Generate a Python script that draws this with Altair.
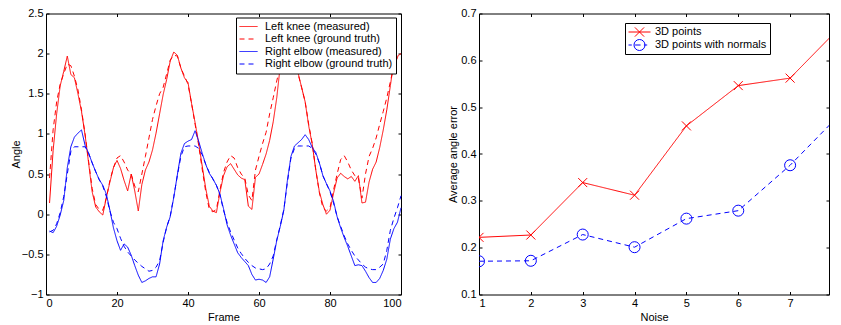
import altair as alt
import pandas as pd

# ---------------- Left panel data ----------------
frames = list(range(1, 101))
knee_measured = [
    0.14, 0.79, 1.25, 1.60, 1.78, 1.97, 1.74, 1.70, 1.50, 1.28,
    0.99, 0.64, 0.28, 0.09, 0.03, -0.01, 0.21, 0.40, 0.58, 0.67,
    0.57, 0.42, 0.29, 0.50, 0.29, 0.04, 0.37, 0.55, 0.65, 0.80,
    1.01, 1.25, 1.49, 1.68, 1.91, 2.02, 1.98, 1.82, 1.70, 1.64,
    1.38, 1.14, 0.89, 0.60, 0.32, 0.10, 0.04, 0.02, 0.27, 0.48,
    0.59, 0.63, 0.56, 0.49, 0.45, 0.43, 0.10, 0.06, 0.46, 0.50,
    0.62, 0.75, 0.92, 1.15, 1.45, 1.85, 1.98, 2.00, 1.96, 1.88,
    1.76, 1.58, 1.40, 1.10, 0.87, 0.55, 0.28, 0.12, 0.00, 0.05,
    0.26, 0.45, 0.51, 0.47, 0.44, 0.47, 0.41, 0.48, 0.14, 0.15,
    0.40, 0.56, 0.65, 0.83, 1.05, 1.30, 1.60, 1.90, 1.97, 2.00,
]
knee_truth = [
    0.45, 1.05, 1.40, 1.62, 1.75, 1.87, 1.85, 1.72, 1.55, 1.30,
    1.00, 0.66, 0.32, 0.12, 0.06, 0.05, 0.20, 0.42, 0.58, 0.70,
    0.73, 0.65, 0.55, 0.50, 0.35, 0.28, 0.50, 0.72, 0.95, 1.18,
    1.35, 1.50, 1.58, 1.75, 1.92, 1.98, 1.97, 1.82, 1.72, 1.62,
    1.38, 1.12, 0.86, 0.56, 0.28, 0.06, 0.03, 0.06, 0.30, 0.52,
    0.65, 0.73, 0.70, 0.58, 0.50, 0.45, 0.24, 0.17, 0.55, 0.72,
    0.88, 1.02, 1.25, 1.45, 1.66, 1.85, 1.95, 1.97, 1.94, 1.86,
    1.75, 1.58, 1.40, 1.12, 0.88, 0.55, 0.27, 0.08, 0.04, 0.08,
    0.30, 0.50, 0.68, 0.73, 0.65, 0.55, 0.48, 0.45, 0.20, 0.50,
    0.72, 0.82, 0.95, 1.12, 1.28, 1.45, 1.65, 1.85, 1.95, 2.00,
]
elbow_measured = [
    -0.21, -0.23, -0.15, -0.01, 0.17, 0.58, 0.84, 0.96, 1.01, 1.05,
    0.86, 0.76, 0.64, 0.53, 0.43, 0.36, 0.25, 0.05, -0.17, -0.33,
    -0.45, -0.37, -0.41, -0.51, -0.64, -0.76, -0.85, -0.83, -0.80, -0.78,
    -0.78, -0.62, -0.33, -0.16, -0.03, 0.21, 0.49, 0.76, 0.88, 0.91,
    0.93, 1.04, 0.91, 0.76, 0.62, 0.51, 0.44, 0.36, 0.25, 0.07,
    -0.13, -0.26, -0.37, -0.48, -0.54, -0.59, -0.64, -0.75, -0.82, -0.81,
    -0.82, -0.85, -0.78, -0.56, -0.33, -0.15, 0.05, 0.42, 0.72, 0.85,
    0.89, 0.93, 0.99, 0.93, 0.83, 0.77, 0.64, 0.48, 0.38, 0.29,
    0.16, -0.03, -0.17, -0.29, -0.40, -0.52, -0.64, -0.63, -0.64, -0.71,
    -0.79, -0.85, -0.85, -0.80, -0.70, -0.56, -0.31, -0.18, -0.10, 0.08,
]
elbow_truth = [
    -0.22, -0.20, -0.12, 0.02, 0.22, 0.50, 0.78, 0.84, 0.84, 0.84,
    0.84, 0.76, 0.64, 0.53, 0.43, 0.35, 0.22, 0.04, -0.10, -0.18,
    -0.30, -0.40, -0.47, -0.52, -0.57, -0.61, -0.65, -0.68, -0.71, -0.70,
    -0.66, -0.58, -0.35, -0.16, -0.02, 0.22, 0.48, 0.72, 0.84, 0.85,
    0.85, 0.85, 0.82, 0.74, 0.62, 0.52, 0.44, 0.36, 0.24, 0.05,
    -0.10, -0.22, -0.32, -0.42, -0.49, -0.55, -0.60, -0.64, -0.67, -0.68,
    -0.69, -0.68, -0.62, -0.52, -0.32, -0.14, 0.06, 0.40, 0.70, 0.82,
    0.85, 0.85, 0.85, 0.85, 0.82, 0.75, 0.64, 0.48, 0.38, 0.28,
    0.14, -0.03, -0.15, -0.27, -0.37, -0.45, -0.52, -0.57, -0.62, -0.66,
    -0.68, -0.69, -0.69, -0.66, -0.62, -0.45, -0.20, -0.05, 0.08, 0.23,
]
left_series = [
    "Left knee (measured)",
    "Left knee (ground truth)",
    "Right elbow (measured)",
    "Right elbow (ground truth)",
]
left_colors = ["#ff0000", "#ff0000", "#0000ff", "#0000ff"]
left_dashes = [[1, 0], [5, 4], [1, 0], [5, 4]]
left_xticks = [0, 20, 40, 60, 80, 100]
left_yticks = [-1, -0.5, 0, 0.5, 1, 1.5, 2, 2.5]

# ---------------- Right panel data ----------------
noise = [1, 2, 3, 4, 5, 6, 7, 8]
err_points = [0.222, 0.227, 0.339, 0.312, 0.460, 0.546, 0.562, 0.675]
err_normals = [0.171, 0.172, 0.228, 0.201, 0.262, 0.279, 0.376, 0.489]
right_series = ["3D points", "3D points with normals"]
right_styles = ["solid", "dashed"]
right_colors = ["#ff0000", "#0000ff"]
right_dashes = [[1, 0], [5, 4]]
right_xticks = [1, 2, 3, 4, 5, 6, 7]
right_yticks = [0.1, 0.2, 0.3, 0.4, 0.5, 0.6, 0.7]

FONT = "Liberation Sans"
TICK = 3

rows = []
for name, vals in zip(left_series, [knee_measured, knee_truth, elbow_measured, elbow_truth]):
    for f, v in zip(frames, vals):
        rows.append({"frame": f, "angle": v, "series": name})
df_left = pd.DataFrame(rows)

rows = []
for name, style, vals in zip(right_series, right_styles, [err_points, err_normals]):
    for n, v in zip(noise, vals):
        rows.append({"noise": n, "err": v, "method": name, "style": style})
df_right = pd.DataFrame(rows)


def main_axis(orient, values, title, title_pad, fmt):
    return alt.Axis(
        orient=orient, values=values, title=title, format=fmt,
        offset=-TICK, tickSize=TICK, domain=False, grid=False,
        labelPadding=3, titlePadding=title_pad,
    )


def frame_axis(orient, values):
    return alt.Axis(
        orient=orient, values=values, title=None, labels=False,
        offset=-TICK, tickSize=TICK, domain=False, grid=False,
    )


# ---------------- Left panel ----------------
xs_left = alt.Scale(domain=[0, 100], nice=False, zero=False)
ys_left = alt.Scale(domain=[-1, 2.5], nice=False, zero=False)

left_legend = alt.Legend(
    title=None, orient="none", legendX=190, legendY=4, padding=3,
    fillColor="white", strokeColor="black", labelFont=FONT, labelFontSize=11,
    labelColor="black", symbolType="stroke", symbolSize=324, symbolStrokeWidth=1,
    clipHeight=12, labelOffset=7, rowPadding=0.5,
)

left_lines = alt.Chart(df_left).mark_line(strokeWidth=1).encode(
    x=alt.X("frame:Q", scale=xs_left, axis=main_axis("bottom", left_xticks, "Frame", 3, "d")),
    y=alt.Y("angle:Q", scale=ys_left, axis=main_axis("left", left_yticks, "Angle", 0, "~g")),
    color=alt.Color("series:N", scale=alt.Scale(domain=left_series, range=left_colors), legend=left_legend),
    strokeDash=alt.StrokeDash("series:N", scale=alt.Scale(domain=left_series, range=left_dashes), legend=left_legend),
)
left_frame = alt.Chart(df_left).mark_point(opacity=0).encode(
    x=alt.X("frame:Q", scale=xs_left, axis=frame_axis("top", left_xticks)),
    y=alt.Y("angle:Q", scale=ys_left, axis=frame_axis("right", left_yticks)),
)
left = alt.layer(left_lines, left_frame).resolve_axis(x="independent", y="independent").properties(
    width=355, height=281
)

# ---------------- Right panel ----------------
# visible part of the x axis (the reference crops the panel just before x = 8)
xs_right = alt.Scale(domain=[1, 7.75], nice=False, zero=False)
ys_right = alt.Scale(domain=[0.1, 0.7], nice=False, zero=False)
color_right = alt.Scale(domain=right_series, range=right_colors)

X_PATH = "M-1,-1L1,1M-1,1L1,-1"
LEG_X = "M-1,0L1,0M-0.42,-0.42L0.42,0.42M-0.42,0.42L0.42,-0.42"
LEG_O = ("M-1,0L-0.7,0M-0.4,0L0.1,0M0.4,0L0.7,0"
         "M0.5,0A0.5,0.5 0 1,1 -0.5,0A0.5,0.5 0 1,1 0.5,0")

right_legend = alt.Legend(
    title=None, orient="none", legendX=146, legendY=9.5, padding=3,
    fillColor="white", strokeColor="black", labelFont=FONT, labelFontSize=11,
    labelColor="black", symbolSize=484, symbolStrokeWidth=1, symbolOpacity=1,
    clipHeight=12, labelOffset=4, rowPadding=1,
)
shape_right = alt.Scale(domain=right_series, range=[LEG_X, LEG_O])

base_r = alt.Chart(df_right)
r_lines = base_r.mark_line(strokeWidth=1, clip=True).encode(
    x=alt.X("noise:Q", scale=xs_right, axis=main_axis("bottom", right_xticks, "Noise", 3, "d")),
    y=alt.Y("err:Q", scale=ys_right, axis=main_axis("left", right_yticks, "Average angle error", 2, "~g")),
    color=alt.Color("method:N", scale=color_right, legend=right_legend),
    strokeDash=alt.StrokeDash("style:N", scale=alt.Scale(domain=right_styles, range=right_dashes), legend=None),
)
r_x = base_r.transform_filter(alt.datum.method == right_series[0]).mark_point(
    shape=X_PATH, size=81, filled=False, strokeWidth=1, opacity=1, clip=True
).encode(
    x=alt.X("noise:Q", scale=xs_right, axis=None),
    y=alt.Y("err:Q", scale=ys_right, axis=None),
    color=alt.Color("method:N", scale=color_right, legend=right_legend),
)
r_o = base_r.transform_filter(alt.datum.method == right_series[1]).mark_point(
    shape="circle", size=121, filled=False, strokeWidth=1, opacity=1, clip=True
).encode(
    x=alt.X("noise:Q", scale=xs_right, axis=None),
    y=alt.Y("err:Q", scale=ys_right, axis=None),
    color=alt.Color("method:N", scale=color_right, legend=right_legend),
)
r_leg = base_r.transform_filter("false").mark_point(filled=False, strokeWidth=1).encode(
    x=alt.X("noise:Q", scale=xs_right, axis=None),
    y=alt.Y("err:Q", scale=ys_right, axis=None),
    color=alt.Color("method:N", scale=color_right, legend=right_legend),
    shape=alt.Shape("method:N", scale=shape_right, legend=right_legend),
)
r_frame = base_r.mark_point(opacity=0, clip=True).encode(
    x=alt.X("noise:Q", scale=xs_right, axis=frame_axis("top", [2, 3, 4, 5, 6, 7])),
    y=alt.Y("err:Q", scale=ys_right, axis=frame_axis("right", right_yticks)),
)
right = alt.layer(r_lines, r_x, r_o, r_leg, r_frame).resolve_axis(
    x="independent", y="independent"
).properties(width=350, height=281)

chart = (
    alt.hconcat(left, right, spacing=42)
    .resolve_scale(color="independent", strokeDash="independent", shape="independent")
    .properties(padding={"left": 1, "top": -1.5, "right": 0, "bottom": 0})
    .configure_view(stroke="black", strokeWidth=1)
    .configure_axis(
        labelFont=FONT, titleFont=FONT, labelFontSize=11, titleFontSize=11,
        titleFontWeight="normal", labelColor="black", titleColor="black",
        tickColor="black", tickWidth=1,
    )
)

chart.save("out.html", embed_options={"renderer": "svg", "actions": False})
